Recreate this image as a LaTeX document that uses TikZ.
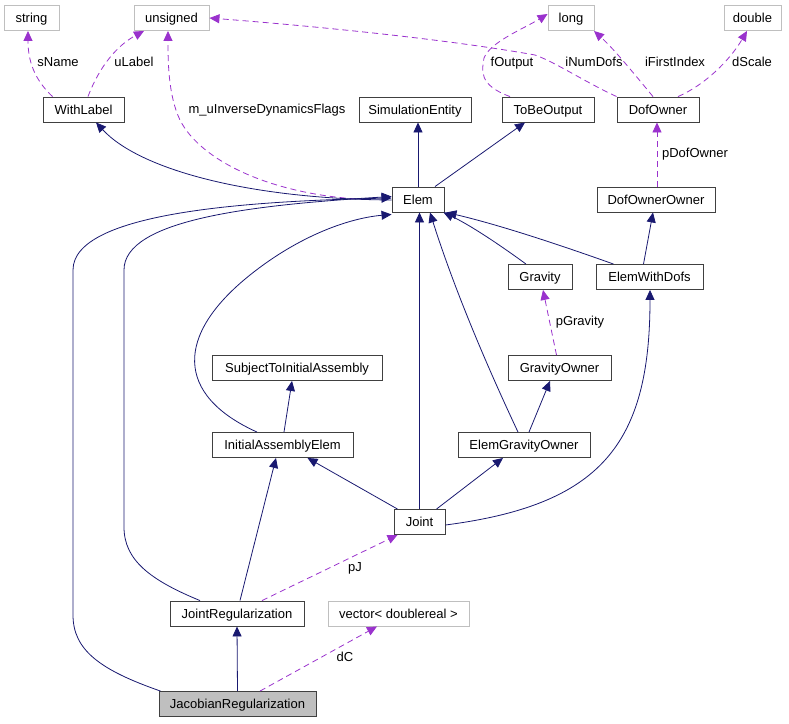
\documentclass[tikz,border=0pt]{standalone}
\usepackage{fontspec}
\setmainfont{Liberation Sans}
\usetikzlibrary{arrows.meta}

\definecolor{navy}{HTML}{191970}
\definecolor{orchid}{HTML}{9A32CD}
\definecolor{boxgray}{HTML}{BFBFBF}

\begin{document}
\begin{tikzpicture}[x=1pt, y=-1pt,
	font=\fontsize{13}{15}\selectfont,
	cls/.style={draw=black!75, line width=0.9pt, fill=white, inner sep=0pt, minimum height=25, text height=9.3pt, text depth=0pt},
	ext/.style={draw=boxgray, line width=0.9pt, fill=white, inner sep=0pt, minimum height=25, text height=9.3pt, text depth=0pt},
	inh/.style={draw=navy, line width=0.8pt, -{Triangle[length=10pt, width=9pt]}},
	dep/.style={draw=orchid, line width=0.8pt, dash pattern=on 6pt off 4pt, -{Triangle[length=10pt, width=9pt]}},
	lbl/.style={inner sep=0pt, text height=9.3pt, text depth=0pt}]
	        \useasboundingbox (0, 0) rectangle (789, 723);
	        % classes
	        \node [ext, minimum width=55] at (31.5, 18) (string) {string};
	        \node [ext, minimum width=75] at (171.5, 18) (unsigned) {unsigned};
	        \node [ext, minimum width=46] at (571, 18) (long) {long};
	        \node [ext, minimum width=57] at (752.5, 18) (double) {double};
	        \node [cls, minimum width=81] at (83.5, 109.5) (WithLabel) {WithLabel};
	        \node [cls, minimum width=112] at (415, 109.5) (SimulationEntity) {SimulationEntity};
	        \node [cls, minimum width=92] at (548, 109.5) (ToBeOutput) {ToBeOutput};
	        \node [cls, minimum width=82] at (658, 109.5) (DofOwner) {DofOwner};
	        \node [cls, minimum width=52] at (418, 199.5) (Elem) {Elem};
	        \node [cls, minimum width=118] at (656, 199.5) (DofOwnerOwner) {DofOwnerOwner};
	        \node [cls, minimum width=64] at (540, 277) (Gravity) {Gravity};
	        \node [cls, minimum width=107] at (649.5, 277) (ElemWithDofs) {ElemWithDofs};
	        \node [cls, minimum width=170] at (297, 368) (SubjectToInitialAssembly) {SubjectToInitialAssembly};
	        \node [cls, minimum width=103] at (559.5, 368) (GravityOwner) {GravityOwner};
	        \node [cls, minimum width=141] at (282.5, 445) (InitialAssemblyElem) {InitialAssemblyElem};
	        \node [cls, minimum width=132] at (524, 445) (ElemGravityOwner) {ElemGravityOwner};
	        \node [cls, minimum width=51] at (419.5, 522) (Joint) {Joint};
	        \node [cls, minimum width=134] at (237, 613.5) (JointRegularization) {JointRegularization};
	        \node [ext, minimum width=141] at (398.5, 613.5) (vector) {vector< doublereal >};
	        \node [cls, fill=boxgray, minimum width=157] at (237.5, 704) (JacobianRegularization) {JacobianRegularization};
	        % members
	        \draw [dep] ([xshift=-31]WithLabel.north) .. controls (35, 80) and (28, 62) .. ([xshift=-3.5]string.south);
	        \draw [dep] ([xshift=4.5]WithLabel.north) .. controls (100, 65) and (118, 45) .. ([xshift=-27.5]unsigned.south);
	        \draw [dep] ([xshift=-26]Elem.west) .. controls (270, 195) and (200, 160) .. (180, 120) .. controls (168, 95) and (168, 60) .. ([xshift=-3.5]unsigned.south);
	        \draw [dep] (DofOwner.north west) .. controls (585, 82) and (555, 62) .. (535, 55) .. controls (440, 38) and (300, 25) .. (unsigned.east);
	        \draw [dep] ([xshift=-38]ToBeOutput.north) .. controls (478, 85) and (482, 70) .. (484, 58) .. controls (490, 42) and (525, 28) .. ([yshift=4]long.west);
	        \draw [dep] ([xshift=-5]DofOwner.north) .. controls (635, 75) and (615, 50) .. ([xshift=23]long.south);
	        \draw [dep] ([xshift=20]DofOwner.north) .. controls (705, 85) and (730, 60) .. ([xshift=-5.5]double.south);
	        \draw [dep] ([xshift=1]DofOwnerOwner.north) -- ([xshift=-1]DofOwner.south);
	        \draw [dep] ([xshift=-3]GravityOwner.north) -- ([xshift=3]Gravity.south);
	        \draw [dep] ([xshift=25]JointRegularization.north) -- ([xshift=-22]Joint.south);
	        \draw [dep] ([xshift=22.5]JacobianRegularization.north) -- ([xshift=-21.5]vector.south);
	        \node [lbl] at (58, 62) (sName) {sName};
	        \node [lbl] at (134, 62) (uLabel) {uLabel};
	        \node [lbl] at (267, 109) (mFlags) {m\_uInverseDynamicsFlags};
	        \node [lbl] at (594, 62) (iNumDofs) {iNumDofs};
	        \node [lbl] at (512, 62) (fOutput) {fOutput};
	        \node [lbl] at (675, 62) (iFirstIndex) {iFirstIndex};
	        \node [lbl] at (752, 62) (dScale) {dScale};
	        \node [lbl] at (695, 153) (pDofOwner) {pDofOwner};
	        \node [lbl] at (580, 321) (pGravity) {pGravity};
	        \node [lbl] at (355, 567) (pJ) {pJ};
	        \node [lbl] at (345, 657) (dC) {dC};
	        % inheritance
	        \draw [inh] ([yshift=-0.5]Elem.west) .. controls (250, 199) and (140, 170) .. ([xshift=12.5]WithLabel.south);
	        \draw [inh] (Elem.north) -- ([xshift=3]SimulationEntity.south);
	        \draw [inh] ([xshift=17]Elem.north) -- ([xshift=-23]ToBeOutput.south);
	        \draw [inh] ([xshift=-6]ElemWithDofs.north) -- ([xshift=-3]DofOwnerOwner.south);
	        \draw [inh] ([xshift=-14]Gravity.north) .. controls (500, 245) and (470, 225) .. ([xshift=-1]Elem.south east);
	        \draw [inh] ([xshift=-36]ElemWithDofs.north) .. controls (560, 245) and (500, 225) .. ([xshift=2]Elem.south east);
	        \draw [inh] ([xshift=1.5]InitialAssemblyElem.north) -- ([xshift=-5]SubjectToInitialAssembly.south);
	        \draw [inh] ([xshift=5]ElemGravityOwner.north) -- ([xshift=-9.5]GravityOwner.south);
	        \draw [inh] ([xshift=-25.5]InitialAssemblyElem.north) .. controls (175, 395) and (175, 335) .. (250, 275) .. controls (300, 235) and (350, 218) .. ([yshift=-2]Elem.south west);
	        \draw [inh] ([xshift=-6]ElemGravityOwner.north) .. controls (470, 330) and (445, 260) .. ([xshift=12]Elem.south);
	        \draw [inh] (Joint.north) -- ([xshift=1.5]Elem.south);
	        \draw [inh] ([xshift=-22]Joint.north) -- ([xshift=25]InitialAssemblyElem.south);
	        \draw [inh] ([xshift=17]Joint.north) -- ([xshift=-21]ElemGravityOwner.south);
	        \draw [inh] ([yshift=-3]Joint.east) .. controls (600, 505) and (650, 445) .. ([xshift=0.5]ElemWithDofs.south);
	        \draw [inh] ([xshift=3]JointRegularization.north) -- ([xshift=-6.5]InitialAssemblyElem.south);
	        \draw [inh] ([xshift=-37]JointRegularization.north) .. controls (150, 580) and (124, 560) .. (124, 527) -- (124, 270) .. controls (124, 220) and (250, 205) .. ([yshift=3]Elem.west);
	        \draw [inh] (JacobianRegularization.north) -- (JointRegularization.south);
	        \draw [inh] ([xshift=-77]JacobianRegularization.north) .. controls (100, 670) and (73, 650) .. (73, 615) -- (73, 270) .. controls (73, 212) and (250, 201) .. ([yshift=1.5]Elem.west);
	        
        \end{tikzpicture}
\end{document}
